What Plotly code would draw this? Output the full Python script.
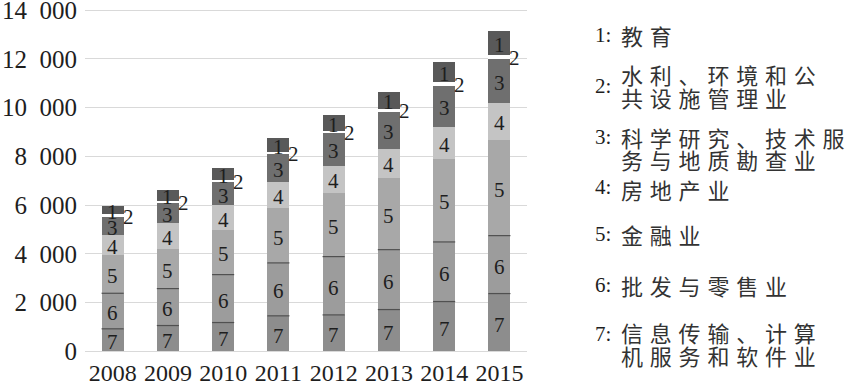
import plotly.graph_objects as go

years = [2008, 2009, 2010, 2011, 2012, 2013, 2014, 2015]
year_labels = [str(y) for y in years]

# series, bottom to top of stack
s7_info = [930, 1064, 1187, 1462, 1500, 1719, 2047, 2375]
s6_trade = [1457, 1515, 1965, 2170, 2390, 2456, 2444, 2375]
s5_finance = [1556, 1638, 1842, 2235, 2620, 2948, 3410, 3930]
s4_realestate = [847, 1064, 995, 1081, 1105, 1187, 1322, 1515]
s3_science = [725, 819, 958, 1171, 1351, 1515, 1666, 1801]
s2_water = [120, 85, 95, 75, 90, 120, 150, 165]
s1_edu = [340, 422, 491, 573, 655, 696, 843, 983]

y_tickvals = [0, 2000, 4000, 6000, 8000, 10000, 12000, 14000]
y_ticktext = ["0", "2\u2002000", "4\u2002000", "6\u2002000", "8\u2002000",
              "10\u2002000", "12\u2002000", "14\u2002000"]

legend_nums = ["1:", "2:", "3:", "4:", "5:", "6:", "7:"]
legend_lines = [
    ["教育"],
    ["水利、环境和公", "共设施管理业"],
    ["科学研究、技术服", "务与地质勘查业"],
    ["房地产业"],
    ["金融业"],
    ["批发与零售业"],
    ["信息传输、计算", "机服务和软件业"],
]

series = [
    ("7", s7_info, "#8d8d8d"),
    ("6", s6_trade, "#9c9c9c"),
    ("5", s5_finance, "#a8a8a8"),
    ("4", s4_realestate, "#c4c4c4"),
    ("3", s3_science, "#6f6f6f"),
    ("2", s2_water, "#ffffff"),
    ("1", s1_edu, "#595959"),
]

BAR_W = 0.4
serif = "Liberation Serif, Times New Roman, serif"
cjk = "Noto Sans CJK SC"
txt_col = "#1e1e1e"

fig = go.Figure()
for name, vals, col in series:
    fig.add_trace(go.Bar(x=years, y=vals, name=name, width=BAR_W,
                         marker=dict(color=col, line=dict(width=0)),
                         showlegend=False, hoverinfo="skip"))

# cumulative tops
cum = [[0] * len(years)]
for _, vals, _ in series:
    cum.append([c + v for c, v in zip(cum[-1], vals)])

# thin dark separators at tops of segment 7 and 6
lx, ly = [], []
for k in (1, 2):
    for i, yr in enumerate(years):
        lx += [yr - BAR_W / 2, yr + BAR_W / 2, None]
        ly += [cum[k][i], cum[k][i], None]
fig.add_trace(go.Scatter(x=lx, y=ly, mode="lines",
                         line=dict(color="#505050", width=1.2),
                         showlegend=False, hoverinfo="skip"))

annotations = []
for k, (name, vals, col) in enumerate(series):
    for i, yr in enumerate(years):
        mid = (cum[k][i] + cum[k + 1][i]) / 2
        if name == "2":
            annotations.append(dict(x=yr + BAR_W / 2, y=mid, xref="x", yref="y",
                                    text=name, showarrow=False, xanchor="left",
                                    yanchor="middle", xshift=-3, yshift=-1,
                                    font=dict(family=serif, size=21, color=txt_col)))
        else:
            annotations.append(dict(x=yr, y=mid, xref="x", yref="y",
                                    text=name, showarrow=False, xanchor="center",
                                    yanchor="middle", yshift=-2,
                                    font=dict(family=serif, size=21, color=txt_col)))

# layout geometry
W, H = 853, 387
ML, MR, MT, MB = 85, 326, 8, 33.5
pw, ph = W - ML - MR, H - MT - MB


def px2paper(px, py):
    return (px - ML) / pw, (H - MB - py) / ph


entry_y = [[35], [74, 97], [137, 159], [189], [234], [285], [332, 356]]
num_y = [35, 86, 137, 187, 234, 285, 334]
for num, lines, ys, ny in zip(legend_nums, legend_lines, entry_y, num_y):
    x0, y0 = px2paper(593, ny)
    annotations.append(dict(x=x0, y=y0, xref="paper", yref="paper", text=num,
                            showarrow=False, xanchor="left", yanchor="middle",
                            font=dict(family=serif, size=21, color=txt_col)))
    for line, ly_ in zip(lines, ys):
        x1, y1 = px2paper(619, ly_)
        annotations.append(dict(x=x1, y=y1, xref="paper", yref="paper",
                                text='<span style="letter-spacing:6.8px">' + line + '</span>',
                                showarrow=False, xanchor="left", yanchor="middle",
                                font=dict(family=cjk, size=22, color="#333333")))

fig.update_layout(
    width=W, height=H,
    margin=dict(l=ML, r=MR, t=MT, b=MB, pad=0),
    barmode="stack",
    bargap=0,
    plot_bgcolor="white", paper_bgcolor="white",
    annotations=annotations,
    xaxis=dict(range=[2007.5, 2015.5], tickvals=years, ticktext=year_labels,
               showgrid=False, zeroline=False, showline=False, ticks="",
               automargin=False, ticklabeloverflow="allow",
               tickfont=dict(family=serif, size=24, color=txt_col),
               ticklabelstandoff=3),
    yaxis=dict(range=[-62, 14082], tickvals=y_tickvals, ticktext=y_ticktext,
               showgrid=True, gridcolor="#d9d9d9", gridwidth=1,
               zeroline=False, showline=False, ticks="",
               automargin=False, ticklabeloverflow="allow",
               tickfont=dict(family=serif, size=25, color=txt_col),
               ticklabelstandoff=7),
)

fig.write_html("out.html", config={"displayModeBar": False},
               post_script="document.body.style.margin='0';")
